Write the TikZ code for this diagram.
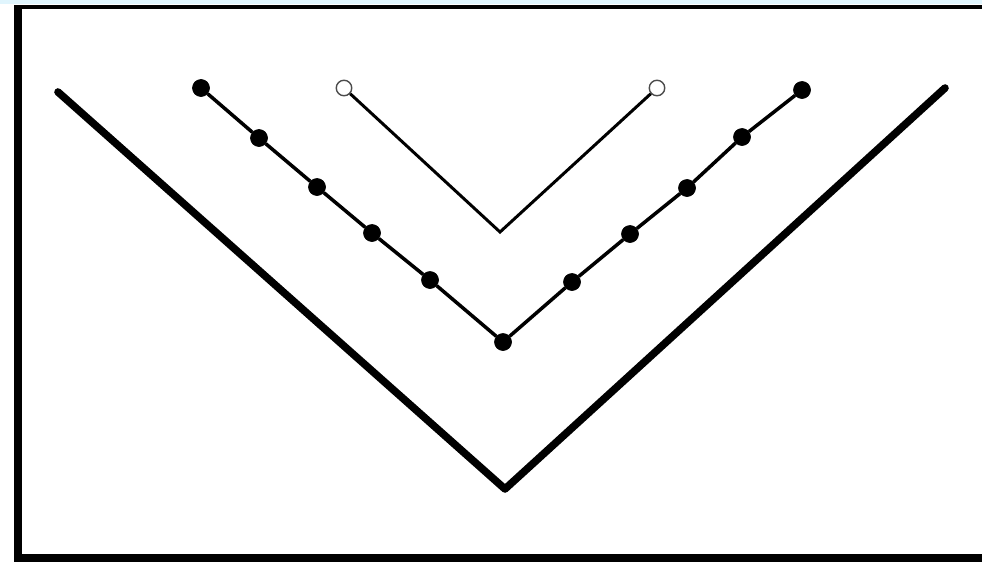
\documentclass[tikz,border=0pt]{standalone}
\usepackage{tikz}
\usetikzlibrary{calc}

\begin{document}
\begin{tikzpicture}[
  x=0.02cm, y=-0.02cm,
  bead/.style={circle,fill=black,draw=black,inner sep=0pt,minimum size=0.34cm},
  ring/.style={circle,fill=white,draw=black!70,line width=0.8pt,inner sep=0pt,minimum size=0.31cm},
  bigv/.style={line width=4.3pt,line cap=round,line join=round},
  midv/.style={line width=2pt},
  innv/.style={line width=1.7pt,line join=miter}
]
\useasboundingbox (0,0) rectangle (982,565);
\fill[cyan!12] (0,0) rectangle (982,4);

% frame
\draw[line width=2pt] (18,7) -- (982,7);
\draw[line width=4.5pt] (18,5) -- (18,558) -- (982,558);

% outer V
\coordinate (L0) at (58,92);
\coordinate (L1) at (505,489);
\coordinate (L2) at (945,88);
\draw[bigv] (L0) -- (L1) -- (L2);

% inner V with open ends
\node[ring] (o1) at (344,88) {};
\node[ring] (o2) at (657,88) {};
\coordinate (ib) at (500,232);
\draw[innv] (o1) -- (ib) -- (o2);

% beaded V
\node[bead] (m0)  at (201,88)  {};
\node[bead] (m1)  at (259,138) {};
\node[bead] (m2)  at (317,187) {};
\node[bead] (m3)  at (372,233) {};
\node[bead] (m4)  at (430,280) {};
\node[bead] (m5)  at (503,342) {};
\node[bead] (m6)  at (572,282) {};
\node[bead] (m7)  at (630,234) {};
\node[bead] (m8)  at (687,188) {};
\node[bead] (m9)  at (742,137) {};
\node[bead] (m10) at (802,90)  {};
\foreach \a/\b in {m0/m1,m1/m2,m2/m3,m3/m4,m4/m5,m5/m6,m6/m7,m7/m8,m8/m9,m9/m10}
  \draw[midv] (\a) -- (\b);
\end{tikzpicture}
\end{document}
